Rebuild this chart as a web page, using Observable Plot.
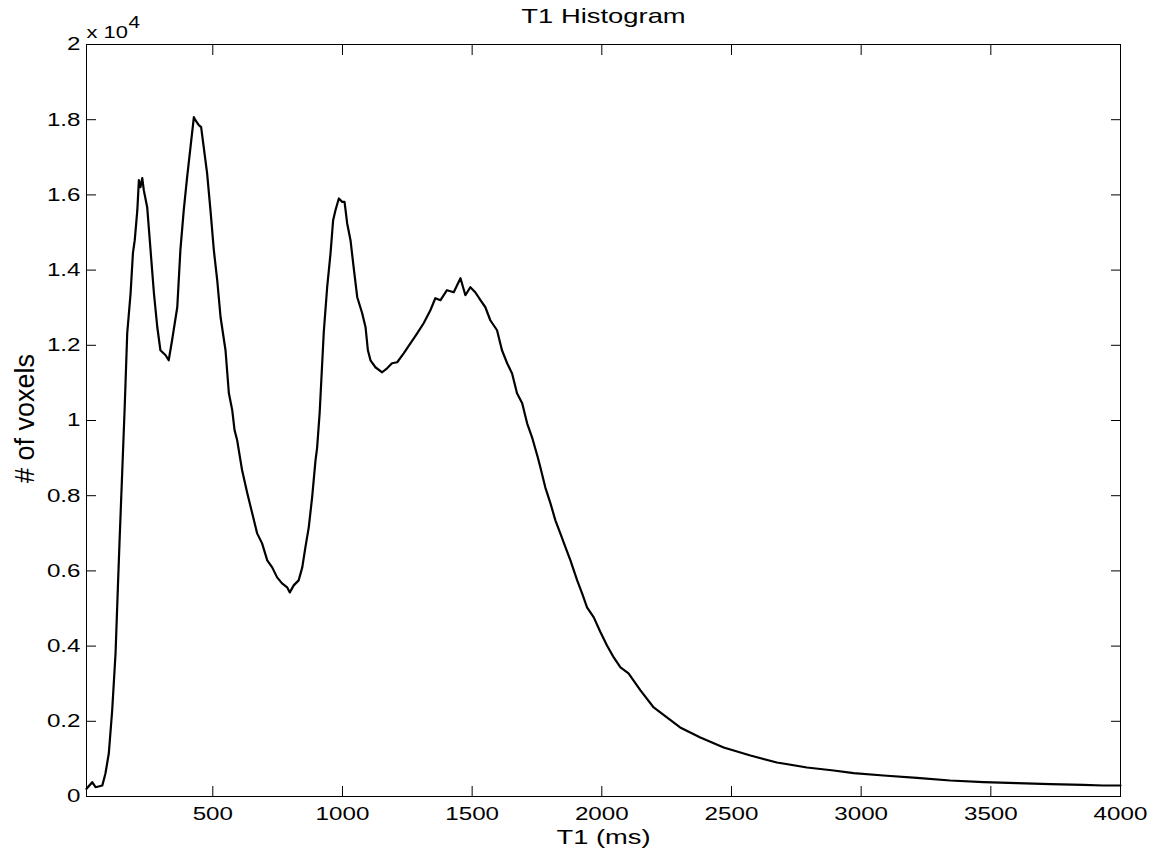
<!DOCTYPE html>
<html><head><meta charset="utf-8">
<script src="https://cdn.jsdelivr.net/npm/d3@7"></script>
<script src="https://cdn.jsdelivr.net/npm/@observablehq/plot@0.6"></script>
<style>body{margin:0;background:#fff} svg{display:block}</style>
</head><body><div id="chart"></div>
<script>
const title = "T1 Histogram";
const xLabel = "T1 (ms)";
const yLabel = "# of voxels";
const expBase = "x 10";
const expPow = "4";

const t1 = [13, 35, 48, 74, 86, 99, 112, 125, 134, 141,
  151, 160, 170, 183, 192, 199, 209, 215, 221, 228,
  234, 247, 260, 273, 286, 298, 318, 330, 343, 363,
  375, 388, 401, 414, 427, 433, 446, 455, 465, 478,
  491, 504, 517, 530, 549, 562, 575, 584, 594, 613,
  633, 652, 671, 690, 710, 729, 748, 767, 787, 797,
  812, 831, 845, 857, 870, 883, 896, 902, 912, 928,
  941, 954, 964, 973, 986, 999, 1008, 1018, 1031, 1043,
  1057, 1076, 1089, 1098, 1108, 1127, 1153, 1172, 1191, 1211,
  1236, 1262, 1288, 1313, 1339, 1358, 1378, 1403, 1429, 1455,
  1474, 1493, 1512, 1532, 1551, 1570, 1596, 1615, 1635, 1654,
  1673, 1693, 1712, 1731, 1753, 1763, 1782, 1802, 1821, 1840,
  1860, 1879, 1905, 1924, 1943, 1969, 1994, 2020, 2046, 2072,
  2103, 2149, 2200, 2251, 2302, 2380, 2470, 2573, 2675, 2791,
  2894, 2971, 3086, 3215, 3343, 3472, 3601, 3729, 3857, 3932,
  4000];

const voxels = [205, 381, 247, 293, 612, 1144, 2288, 3805, 5561, 6892,
  8675, 10300, 12320, 13385, 14449, 14795, 15593, 16392, 16205, 16445,
  16126, 15673, 14529, 13385, 12480, 11868, 11735, 11602, 12134, 13012,
  14529, 15593, 16471, 17270, 18068, 17988, 17855, 17802, 17270, 16578,
  15593, 14529, 13731, 12746, 11868, 10724, 10272, 9739, 9473, 8675,
  8063, 7531, 6998, 6732, 6280, 6094, 5828, 5668, 5561, 5428,
  5615, 5748, 6094, 6626, 7158, 7957, 8941, 9260, 10200, 12360,
  13545, 14449, 15327, 15593, 15905, 15814, 15814, 15247, 14795, 14077,
  13278, 12853, 12480, 11868, 11602, 11416, 11283, 11389, 11522, 11549,
  11788, 12054, 12320, 12586, 12932, 13252, 13199, 13465, 13411, 13784,
  13332, 13545, 13411, 13199, 13012, 12666, 12400, 11868, 11522, 11250,
  10724, 10458, 9926, 9553, 9021, 8755, 8223, 7797, 7344, 6998,
  6626, 6280, 5748, 5402, 5029, 4763, 4380, 4018, 3699, 3433,
  3273, 2821, 2368, 2102, 1836, 1570, 1304, 1091, 905, 772,
  692, 620, 559, 497, 426, 381, 354, 327, 311, 293,
  293];

const xTicks = [500, 1000, 1500, 2000, 2500, 3000, 3500, 4000];
const yTicks = [0, 2000, 4000, 6000, 8000, 10000, 12000, 14000, 16000, 18000, 20000];

const data = t1.map((x, i) => ({t1: x, count: voxels[i]}));

const chart = Plot.plot({
  width: 1153, height: 859,
  marginLeft: 86, marginRight: 33, marginTop: 44, marginBottom: 63,
  style: {fontFamily: "'Liberation Sans', Arial, sans-serif", fontSize: "18.6px", color: "black", background: "white", overflow: "visible"},
  x: {domain: [13, 4000]},
  y: {domain: [0, 20000]},
  marks: [
    Plot.frame({stroke: "black", strokeWidth: 1}),
    Plot.axisX(xTicks, {anchor: "bottom", tickSize: -10, tickPadding: 20, tickFormat: d => String(d), label: null, fontSize: 18.6}),
    Plot.axisX(xTicks, {anchor: "top", tickSize: -10, fill: "none", label: null}),
    Plot.axisY(yTicks, {anchor: "left", tickSize: -10, tickPadding: 16, tickFormat: d => String(d / 10000), label: null, fontSize: 18.6}),
    Plot.axisY(yTicks, {anchor: "right", tickSize: -10, fill: "none", label: null}),
    Plot.line(data, {x: "t1", y: "count", stroke: "black", strokeWidth: 2.2}),
    Plot.text([title], {frameAnchor: "top", textAnchor: "middle", lineAnchor: "bottom", dy: -22, fontSize: 20, fill: "black"}),
    Plot.text([xLabel], {frameAnchor: "bottom", textAnchor: "middle", lineAnchor: "bottom", dy: 47, fontSize: 19.5, fill: "black"}),
    Plot.text([yLabel], {frameAnchor: "left", textAnchor: "middle", rotate: -90, lineAnchor: "bottom", dx: -53, dy: -2, fontSize: 27, fill: "black"}),
    Plot.text([expBase], {frameAnchor: "top-left", textAnchor: "start", lineAnchor: "bottom", dy: -7, fontSize: 17, fill: "black"}),
    Plot.text([expPow], {frameAnchor: "top-left", textAnchor: "start", lineAnchor: "bottom", dx: 42, dy: -17, fontSize: 16, fill: "black"})
  ]
});

// widen glyphs horizontally to match the reference's wide rendering
chart.querySelectorAll("text").forEach(t => {
  const s = t.textContent;
  if (s === yLabel) return;
  let k = 1.3;
  if (s === title) k = 1.37;
  else if (s === xLabel) k = 1.4;
  else if (s === expBase || s === expPow) k = 1.29;
  const tr = t.getAttribute("transform") || "";
  t.setAttribute("transform", tr + ` scale(${k},1)`);
});

document.getElementById("chart").appendChild(chart);
</script>
</body></html>
